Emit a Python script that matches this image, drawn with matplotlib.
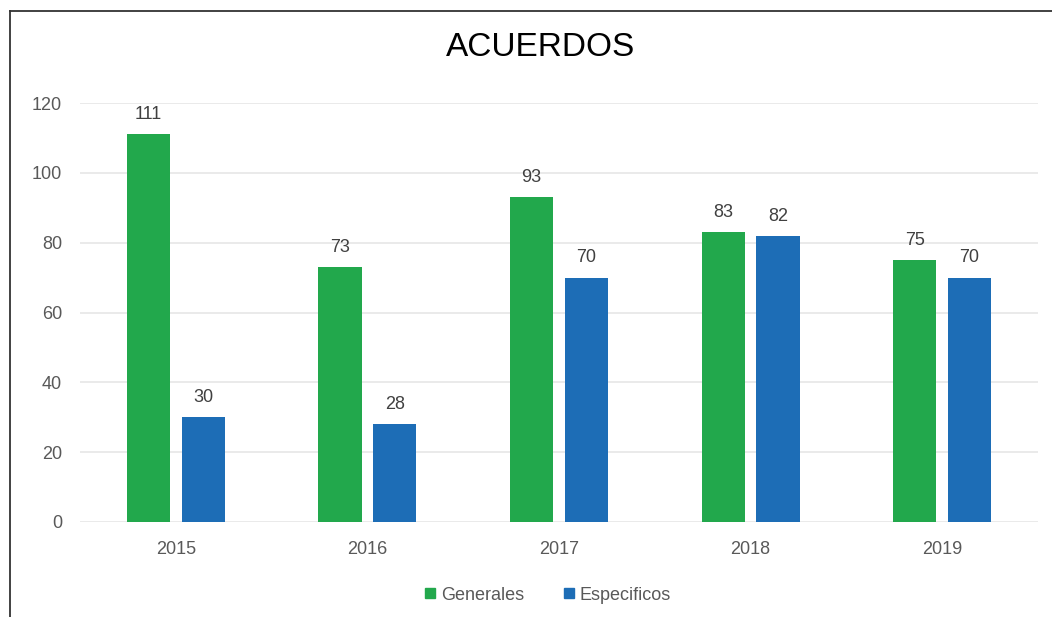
import matplotlib
matplotlib.use("Agg")
import matplotlib.pyplot as plt
from matplotlib.lines import Line2D
import numpy as np

years = ["2015", "2016", "2017", "2018", "2019"]
generales = [111, 73, 93, 83, 75]
especificos = [30, 28, 70, 82, 70]

green = "#22A84C"
blue = "#1D6DB6"
gray = "#595959"

plt.rcParams['font.family'] = ['Liberation Sans', 'DejaVu Sans']

W, H = 1052, 617
fig = plt.figure(figsize=(W/100, H/100), dpi=100)
fig.patch.set_facecolor("white")
ax = fig.add_axes([80/W, 1-522/H, (1038-80)/W, (522-103)/H])

x = np.arange(len(years))
bw = 0.225
off = 0.143
b1 = ax.bar(x - off, generales, bw, color=green, label="Generales")
b2 = ax.bar(x + off, especificos, bw, color=blue, label="Especificos")

for bars, vals in ((b1, generales), (b2, especificos)):
    for r, v in zip(bars, vals):
        ax.annotate(str(v), (r.get_x() + r.get_width()/2, v), xytext=(0, 8),
                    textcoords="offset points", ha="center", va="bottom",
                    fontsize=13, color="#404040")

ax.set_xlim(-0.5, len(years) - 0.5)
ax.set_ylim(0, 120)
ax.set_yticks(range(0, 121, 20))
ax.set_xticks(x)
ax.set_xticklabels(years)
ax.tick_params(axis="both", length=0, labelsize=13, labelcolor=gray)
ax.tick_params(axis="y", pad=13)
ax.tick_params(axis="x", pad=14)
ax.grid(axis="y", color="#E6E6E6", linewidth=1.2)
ax.set_axisbelow(True)
for s in ax.spines.values():
    s.set_visible(False)

fig.text(541/W, 1-48/H, "ACUERDOS", ha="center", va="center", fontsize=24, color="black")

handles = [Line2D([], [], marker="s", linestyle="none", color=green, markersize=7),
           Line2D([], [], marker="s", linestyle="none", color=blue, markersize=7)]
fig.legend(handles, ["Generales", "Especificos"], loc="center", bbox_to_anchor=(546/W, 1-595/H),
           ncol=2, frameon=False, fontsize=13, labelcolor=gray, handletextpad=0.1,
           columnspacing=2.0, handlelength=1.0)

# frame lines (left and top)
fig.add_artist(Line2D([10/W, 10/W], [0, 1-11/H], transform=fig.transFigure, color="#333333", linewidth=1.3))
fig.add_artist(Line2D([10/W, 1], [1-11/H, 1-11/H], transform=fig.transFigure, color="#333333", linewidth=1.3))

fig.savefig("out.png", dpi=100)
